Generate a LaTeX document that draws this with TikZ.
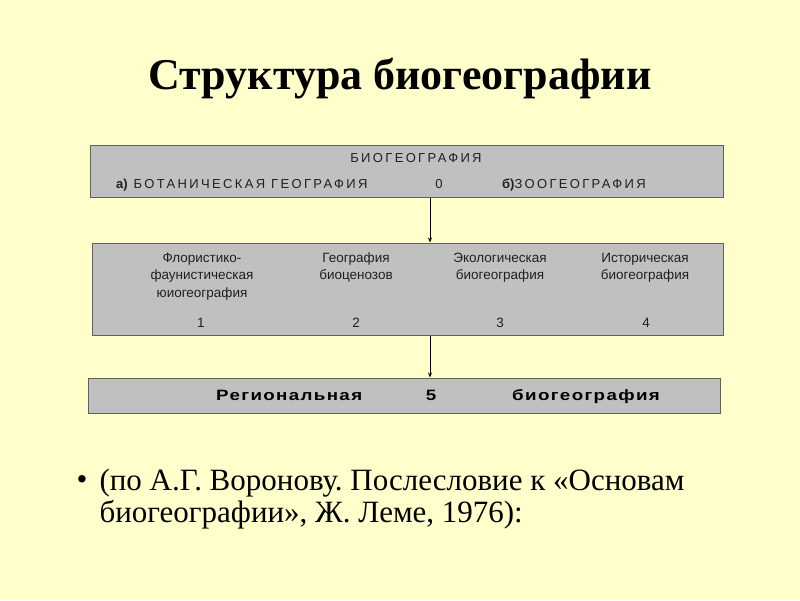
\documentclass[tikz,border=0pt]{standalone}
\usepackage{fontspec}
\setmainfont{Liberation Serif}
\setsansfont{Liberation Sans}
\usepackage{xcolor}
\usetikzlibrary{arrows.meta,positioning}
\definecolor{slideyellow}{HTML}{FFFFCC}
\definecolor{panelgray}{HTML}{C0C0C0}
\definecolor{panelline}{HTML}{606060}
\definecolor{inkgray}{HTML}{202020}
\frenchspacing
\tikzset{
  panel/.style={
    rectangle,
    draw=panelline,
    fill=panelgray,
    line width=1pt,
    inner sep=0pt
  },
  caps/.style={
    inner sep=0pt,
    anchor=base,
    text=inkgray,
    font=\sffamily\fontsize{13}{15}\selectfont\addfontfeature{LetterSpace=18}
  },
  item/.style={
    inner sep=0pt,
    align=center,
    text=inkgray,
    font=\sffamily\fontsize{13.5}{17.5}\selectfont
  },
  region/.style={
    inner sep=0pt,
    anchor=base,
    font=\sffamily\bfseries\fontsize{15}{17}\selectfont\addfontfeature{FakeStretch=1.25,LetterSpace=9}
  },
  line/.style={-{Stealth[length=5pt,width=4pt]}, line width=0.8pt, draw=black}
}

\begin{document}
\begin{tikzpicture}[x=1pt, y=-1pt]
  \fill[slideyellow] (0,0) rectangle (800,600);
  \useasboundingbox (0,0) rectangle (800,600);

  \node[font=\bfseries\fontsize{44}{48}\selectfont] (title) at (400,78) {Структура биогеографии};

  % panels
  \node[panel, minimum width=633pt, minimum height=52pt] (bio) at (406.5,171) {};
  \node[panel, minimum width=631pt, minimum height=92pt] (types) at (407.5,289) {};
  \node[panel, minimum width=632pt, minimum height=35pt] (regional) at (404,395.5) {};
  \coordinate (axis) at (430,0);

  % top panel
  \node[caps] (biohead) at (416,162) {БИОГЕОГРАФИЯ};
  \node[caps, anchor=base west] (botany) at (116,188) {{\bfseries\addfontfeature{LetterSpace=0}а)} БОТАНИЧЕСКАЯ ГЕОГРАФИЯ};
  \node[caps] (zero) at (439,188) {0};
  \node[caps, anchor=base west] (zoology) at (502,188) {{\bfseries\addfontfeature{LetterSpace=0}б)}ЗООГЕОГРАФИЯ};

  % middle panel
  \node[item, anchor=north] (floristic) at (202,250) {\strut Флористико-\\фаунистическая\\юиогеография};
  \node[item, anchor=north] (cenoses) at (356,250) {\strut География\\биоценозов};
  \node[item, anchor=north] (ecology) at (500,250) {\strut Экологическая\\биогеография};
  \node[item, anchor=north] (history) at (645,250) {\strut Историческая\\биогеография};
  \node[item, anchor=base] (one) at (201,327) {1};
  \node[item, anchor=base] (two) at (356,327) {2};
  \node[item, anchor=base] (three) at (500,327) {3};
  \node[item, anchor=base] (four) at (646,327) {4};

  % bottom panel
  \node[region, anchor=base west] (regword) at (216,400) {Региональная};
  \node[region] (five) at (431,400) {5};
  \node[region, anchor=base west] (bgword) at (512,400) {биогеография};

  \draw[line] (bio.south -| axis) -- (types.north -| axis);
  \draw[line] (types.south -| axis) -- (regional.north -| axis);

  % source
  \node[font=\fontsize{31}{32}\selectfont, anchor=base] (dot) at (82,489) {\textbullet};
  \node[anchor=north west, align=left, font=\fontsize{31}{32}\selectfont] (source) at (96,465)
    {(по А.Г. Воронову. Послесловие к «Основам\\биогеографии», Ж. Леме, 1976):};
\end{tikzpicture}
\end{document}
